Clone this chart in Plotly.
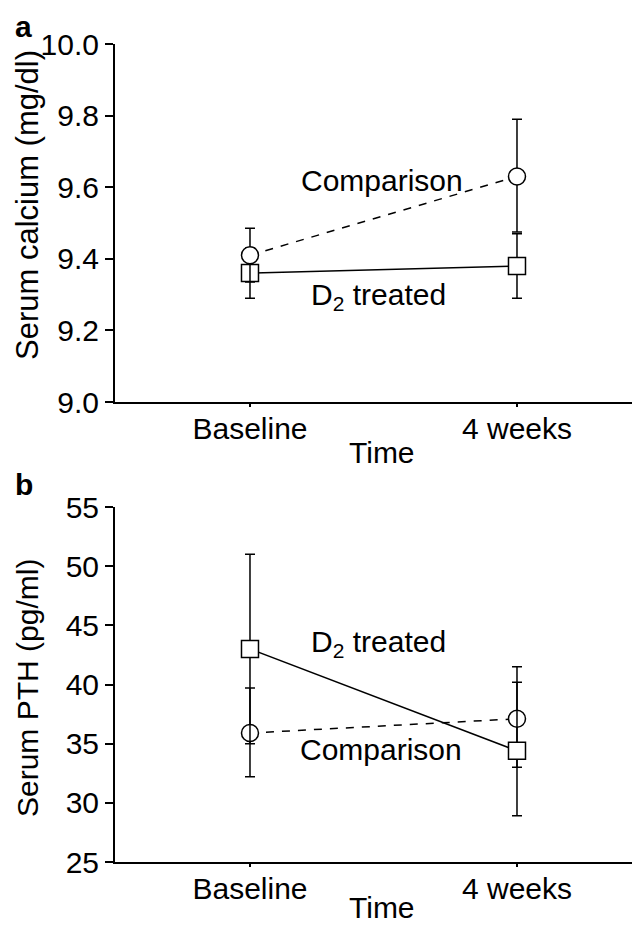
import plotly.graph_objects as go

# ---- data ----
time_labels = ["Baseline", "4 weeks"]
time_pos = [0, 1]

# Panel a: serum calcium (mg/dl)
ca_comparison = [9.41, 9.63]
ca_comparison_err_plus = [0.075, 0.16]
ca_comparison_err_minus = [0.075, 0.155]
ca_d2 = [9.36, 9.38]
ca_d2_err_plus = [0.07, 0.09]
ca_d2_err_minus = [0.07, 0.09]

# Panel b: serum PTH (pg/ml)
pth_comparison = [35.9, 37.1]
pth_comparison_err_plus = [3.8, 4.4]
pth_comparison_err_minus = [3.7, 4.1]
pth_d2 = [43.0, 34.4]
pth_d2_err_plus = [8.0, 5.8]
pth_d2_err_minus = [8.0, 5.5]

ca_ticks = [9.0, 9.2, 9.4, 9.6, 9.8, 10.0]
pth_ticks = [25, 30, 35, 40, 45, 50, 55]

FONT = "Liberation Sans, Arial, sans-serif"
FS = 30
BLACK = "#000000"
W, H = 632, 917   # page body has an 8px margin


def px_x(v):
    return v / W


def px_y(v):
    return 1 - v / H


fig = go.Figure()


def add_series(x, y, ep, em, symbol, dash, xa, ya):
    fig.add_trace(go.Scatter(
        x=x, y=y, mode="lines+markers",
        line=dict(color=BLACK, width=1.5, dash=dash),
        marker=dict(symbol=symbol, size=17, color="white",
                    line=dict(color=BLACK, width=1.5)),
        error_y=dict(type="data", symmetric=False, array=ep, arrayminus=em,
                     color=BLACK, thickness=1.5, width=5),
        xaxis=xa, yaxis=ya, showlegend=False, cliponaxis=False,
    ))


add_series(time_pos, ca_d2, ca_d2_err_plus, ca_d2_err_minus, "square", "solid", "x", "y")
add_series(time_pos, ca_comparison, ca_comparison_err_plus, ca_comparison_err_minus, "circle", "8px,8px", "x", "y")
add_series(time_pos, pth_comparison, pth_comparison_err_plus, pth_comparison_err_minus, "circle", "8px,8px", "x2", "y2")
add_series(time_pos, pth_d2, pth_d2_err_plus, pth_d2_err_minus, "square", "solid", "x2", "y2")

tfont = dict(family=FONT, size=FS, color=BLACK)
xrange = [-0.5056, 1.4607]
xcommon = dict(range=xrange, tickmode="array", tickvals=time_pos, ticktext=time_labels,
               showline=True, linecolor=BLACK, linewidth=2, ticks="outside", ticklen=3,
               tickwidth=1.5, tickcolor=BLACK, showgrid=False, zeroline=False,
               tickfont=tfont, automargin=False, ticklabelstandoff=-4,
               domain=[px_x(107), 1.0])
ycommon = dict(showline=True, linecolor=BLACK, linewidth=2, ticks="outside", ticklen=8,
               tickwidth=1.5, tickcolor=BLACK, showgrid=False, zeroline=False,
               tickfont=tfont, automargin=False)

fig.update_layout(
    width=W, height=H,
    margin=dict(l=0, r=0, t=0, b=0, autoexpand=False),
    paper_bgcolor="white", plot_bgcolor="white",
    font=tfont,
    xaxis=dict(anchor="y", **xcommon),
    yaxis=dict(anchor="x", domain=[px_y(394), px_y(36)], range=[9.0, 10.0],
               tickvals=ca_ticks, ticktext=[f"{v:.1f}" for v in ca_ticks],
               **ycommon),
    xaxis2=dict(anchor="y2", **xcommon),
    yaxis2=dict(anchor="x2", domain=[px_y(854), px_y(499)], range=[25, 55],
                tickvals=pth_ticks, ticktext=[str(v) for v in pth_ticks],
                **ycommon),
)

# series labels
fig.add_annotation(x=0.494, y=9.62, xref="x", yref="y", text="Comparison", showarrow=False, font=tfont)
fig.add_annotation(x=0.48, y=9.296, xref="x", yref="y", text="D<sub>2</sub> treated", showarrow=False, font=tfont)
fig.add_annotation(x=0.48, y=43.5, xref="x2", yref="y2", text="D<sub>2</sub> treated", showarrow=False, font=tfont)
fig.add_annotation(x=0.49, y=34.5, xref="x2", yref="y2", text="Comparison", showarrow=False, font=tfont)


def paper_text(x, y, text, size=FS, angle=0, yanchor="middle"):
    fig.add_annotation(x=px_x(x), y=px_y(y), xref="paper", yref="paper", text=text,
                       showarrow=False, xanchor="center", yanchor=yanchor,
                       textangle=angle, font=dict(family=FONT, size=size, color=BLACK))


# axis titles
paper_text(374, 444, "Time")
paper_text(374, 899, "Time")
paper_text(19, 197, "Serum calcium (mg/dl)", size=31, angle=-90)
paper_text(19, 680, "Serum PTH (pg/ml)", size=30, angle=-90)

# panel letters
paper_text(15, 0, "<b>a</b>", yanchor="top")
paper_text(16, 476, "<b>b</b>")

fig.write_html("out.html")
